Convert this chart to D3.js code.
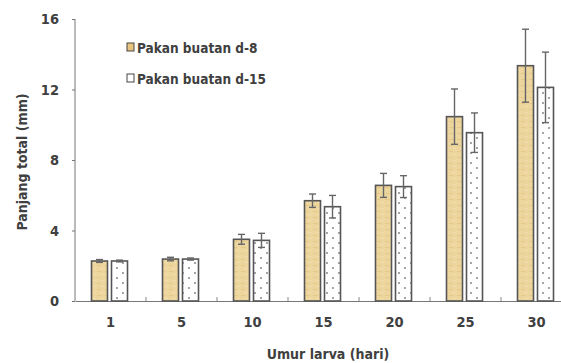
<!DOCTYPE html>
<html>
<head>
<meta charset="utf-8">
<style>
html, body { margin: 0px; padding: 0px; border: 0px; background: #fff; }
text { font-family: "DejaVu Sans Condensed", "Liberation Sans", sans-serif; font-weight: bold; fill: #404040; }
</style>
</head>
<body>
<div id="chart"></div>
<script src="https://cdn.jsdelivr.net/npm/d3@7"></script>
<script>
  var categories = ["1", "5", "10", "15", "20", "25", "30"];
  var seriesNames = ["Pakan buatan d-8", "Pakan buatan d-15"];
  var d8 = [2.27, 2.38, 3.5, 5.69, 6.56, 10.46, 13.35];
  var d8Err = [0.08, 0.1, 0.28, 0.38, 0.68, 1.57, 2.07];
  var d15 = [2.27, 2.38, 3.44, 5.35, 6.49, 9.55, 12.12];
  var d15Err = [0.05, 0.06, 0.4, 0.64, 0.62, 1.12, 2.0];
  var yTicks = [0, 4, 8, 12, 16];

  var W = 561, H = 363;
  var svg = d3.select("#chart").append("svg")
    .attr("width", W).attr("height", H);

  // fills: textured tan and white with dots
  var defs = svg.append("defs");
  var dots = defs.append("pattern")
    .attr("id", "dots").attr("patternUnits", "userSpaceOnUse")
    .attr("width", 12).attr("height", 10);
  dots.append("rect").attr("width", 12).attr("height", 10).attr("fill", "#fff");
  dots.append("circle").attr("cx", 3).attr("cy", 3).attr("r", 0.8).attr("fill", "#333");
  dots.append("circle").attr("cx", 9).attr("cy", 8).attr("r", 0.8).attr("fill", "#333");

  var tan = defs.append("pattern")
    .attr("id", "tan").attr("patternUnits", "userSpaceOnUse")
    .attr("width", 8).attr("height", 6);
  tan.append("rect").attr("width", 8).attr("height", 6).attr("fill", "#EDD59E");
  tan.append("rect").attr("x", 1).attr("y", 1).attr("width", 4).attr("height", 1).attr("fill", "#E3C889");
  tan.append("rect").attr("x", 5).attr("y", 4).attr("width", 3).attr("height", 1).attr("fill", "#F2DDAE");

  var x = d3.scaleBand().domain(categories).range([75, 572]).padding(0);
  var y = d3.scaleLinear().domain([0, 16]).range([301, 19]);

  var series = [
    { name: seriesNames[0], vals: d8, err: d8Err, fill: "url(#tan)", off: -19 },
    { name: seriesNames[1], vals: d15, err: d15Err, fill: "url(#dots)", off: 1 }
  ];
  var barW = 16;

  // axes
  var yAxis = svg.append("g").attr("transform", "translate(75,0)")
    .call(d3.axisLeft(y).tickValues(yTicks).tickSize(3).tickPadding(13));
  yAxis.select(".domain").attr("stroke", "#777").attr("d", "M0,19V301");
  yAxis.selectAll(".tick line").attr("stroke", "#777");
  yAxis.selectAll(".tick text").style("font-size", "14.5px");

  var xAxis = svg.append("g").attr("transform", "translate(0,301)")
    .call(d3.axisBottom(x).tickSize(0).tickPadding(16));
  xAxis.select(".domain").attr("stroke", "#777").attr("stroke-width", 1.2);
  xAxis.selectAll(".tick text").style("font-size", "14.5px");

  // small inward ticks between groups
  svg.append("g").selectAll("line")
    .data(categories.slice(1))
    .join("line")
    .attr("x1", function (d) { return x(d); })
    .attr("x2", function (d) { return x(d); })
    .attr("y1", 297).attr("y2", 301)
    .attr("stroke", "#888");

  series.forEach(function (s) {
    var g = svg.append("g");
    g.selectAll("rect")
      .data(categories)
      .join("rect")
      .attr("x", function (d) { return x(d) + x.bandwidth() / 2 + s.off; })
      .attr("y", function (d, i) { return y(s.vals[i]); })
      .attr("width", barW)
      .attr("height", function (d, i) { return y(0) - y(s.vals[i]); })
      .attr("fill", s.fill)
      .attr("stroke", "#555")
      .attr("stroke-width", 1.6);

    var eb = svg.append("g").attr("stroke", "#666").attr("stroke-width", 1.4);
    categories.forEach(function (d, i) {
      var cx = x(d) + x.bandwidth() / 2 + s.off + barW / 2;
      var hi = y(s.vals[i] + s.err[i]), lo = y(s.vals[i] - s.err[i]);
      eb.append("line").attr("x1", cx).attr("x2", cx).attr("y1", hi).attr("y2", lo);
      eb.append("line").attr("x1", cx - 3.5).attr("x2", cx + 3.5).attr("y1", hi).attr("y2", hi);
      eb.append("line").attr("x1", cx - 3.5).attr("x2", cx + 3.5).attr("y1", lo).attr("y2", lo);
    });
  });

  // legend
  var leg = svg.append("g");
  series.forEach(function (s, i) {
    var ly = 48 + i * 31;
    leg.append("rect").attr("x", 127).attr("y", ly - 5).attr("width", 7).attr("height", 8)
      .attr("fill", i === 0 ? "#E8C57F" : "#fff").attr("stroke", "#444").attr("stroke-width", 1);
    leg.append("text").attr("x", 137).attr("y", ly + 5)
      .style("font-size", "13.5px").text(s.name);
  });

  // axis titles
  svg.append("text")
    .attr("x", 328).attr("y", 359)
    .attr("text-anchor", "middle")
    .style("font-size", "14px")
    .text("Umur larva (hari)");

  svg.append("text")
    .attr("transform", "translate(27,162) rotate(-90)")
    .attr("text-anchor", "middle")
    .style("font-size", "14px")
    .text("Panjang total (mm)");
</script>
</body>
</html>
